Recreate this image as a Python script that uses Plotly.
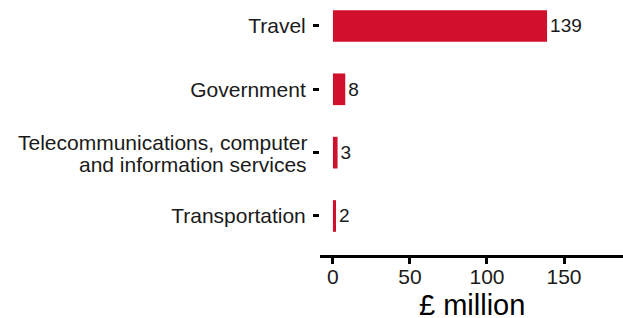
import plotly.graph_objects as go

categories = ["Transportation", "Telecommunications", "Government", "Travel"]
tick_labels = ["Transportation", "", "Government", "Travel"]
telecom_lines = ["Telecommunications, computer", "and information services"]
values = [2, 3, 8, 139]
value_labels = ["2", "3", "8", "139"]
x_ticks = [0, 50, 100, 150]
x_title = "£ million"

FONT = "Liberation Sans, Arial, sans-serif"

fig = go.Figure(go.Bar(
    x=values, y=categories, orientation="h",
    marker=dict(color="#D0102D", line=dict(width=0)),
    width=0.5,
    text=value_labels, textposition="outside",
    textfont=dict(family=FONT, size=19, color="#1a1a1a"),
    cliponaxis=False, hoverinfo="skip",
))

fig.update_layout(
    width=623, height=318,
    margin=dict(l=320, r=0, t=0, b=63, autoexpand=False),
    paper_bgcolor="white", plot_bgcolor="white",
    font=dict(family=FONT, color="#1a1a1a"),
    showlegend=False,
    bargap=0.5,
)
fig.update_xaxes(
    range=[-8.4, 188.3], tickvals=x_ticks, ticktext=[str(t) for t in x_ticks],
    showgrid=False, zeroline=False, showline=True, linecolor="black", linewidth=2.5,
    ticks="outside", ticklen=6, tickwidth=2.5, tickcolor="black",
    tickfont=dict(family=FONT, size=21, color="#1a1a1a"),
    ticklabelstandoff=-5,
    automargin=False,
)
fig.update_yaxes(
    range=[-0.616, 3.41], showgrid=False, zeroline=False, showline=False,
    tickvals=categories, ticktext=tick_labels,
    ticks="outside", ticklen=6, tickwidth=3, tickcolor="black",
    tickfont=dict(family=FONT, size=21, color="#1a1a1a"), ticklabelstandoff=3,
    automargin=False,
)
for line, shift in zip(telecom_lines, [10, -12]):
    fig.add_annotation(
        text=line, xref="paper", yref="y", x=-0.036, y=categories[1],
        xanchor="right", yanchor="middle", yshift=shift, showarrow=False,
        font=dict(family=FONT, size=21, color="#1a1a1a"),
    )
fig.add_annotation(
    text=x_title, xref="paper", yref="paper", x=0.5, y=-0.195,
    xanchor="center", yanchor="middle", showarrow=False,
    font=dict(family=FONT, size=29, color="black"),
)

fig.write_html("out.html", config={"displayModeBar": False},
               post_script="document.body.style.margin='0';")
